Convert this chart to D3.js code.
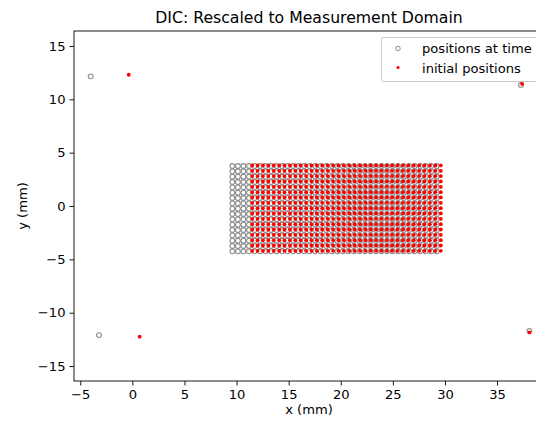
<!DOCTYPE html>
<html><head><meta charset="utf-8">
<script src="https://cdn.jsdelivr.net/npm/d3@7"></script>
<style>
html,body{margin:0;padding:0;background:#fff;}
svg{display:block;font-family:"DejaVu Sans",sans-serif;}
</style></head>
<body>
<svg id="c" width="536" height="426"></svg>
<script>
// ---- data ----
const xTicks = [-5, 0, 5, 10, 15, 20, 25, 30, 35];
const yTicks = [-15, -10, -5, 0, 5, 10, 15];
// initial positions grid (columns / rows, mm)
const initCols = [11.5, 12.02, 12.53, 13.05, 13.57, 14.09, 14.6, 15.12, 15.64, 16.15, 16.67, 17.19, 17.7, 18.22, 18.74, 19.26, 19.77, 20.29, 20.81, 21.32, 21.84, 22.36, 22.87, 23.39, 23.91, 24.43, 24.94, 25.46, 25.98, 26.49, 27.01, 27.53, 28.04, 28.56, 29.08, 29.6];
const initRows = [3.8, 3.3, 2.8, 2.3, 1.8, 1.3, 0.8, 0.3, -0.2, -0.7, -1.2, -1.7, -2.2, -2.7, -3.2, -3.7, -4.2];
// positions at time grid
const timeCols = [9.6, 10.13, 10.66, 11.19, 11.72, 12.25, 12.78, 13.31, 13.84, 14.37, 14.9, 15.43, 15.96, 16.49, 17.02, 17.55, 18.08, 18.61, 19.14, 19.67, 20.2, 20.73, 21.26, 21.79, 22.32, 22.85, 23.38, 23.91, 24.44, 24.97, 25.5, 26.03, 26.56, 27.09, 27.62, 28.15, 28.68, 29.21];
const timeRows = [3.75, 3.25, 2.75, 2.25, 1.75, 1.25, 0.75, 0.25, -0.25, -0.75, -1.25, -1.75, -2.25, -2.75, -3.25, -3.75, -4.25];
// corner markers
const initCorners = [[-0.35, 12.3], [0.7, -12.25], [37.4, 11.45], [38.1, -11.85]];
const timeCorners = [[-4.0, 12.15], [-3.2, -12.1], [37.3, 11.35], [38.1, -11.7]];

// ---- layout ----
const svg = d3.select("#c");
const L = 74, T = 31, B = 381, R = 545;
const x = d3.scaleLinear().domain([-5.6, 39.6]).range([L, R]);
const y = d3.scaleLinear().domain([-16.4, 16.4]).range([B, T]);

const initPts = d3.cross(initCols, initRows).concat(initCorners);
const timePts = d3.cross(timeCols, timeRows).concat(timeCorners);

const plot = svg.append("g");
plot.selectAll("circle.t").data(timePts).enter().append("circle")
  .attr("class", "t").attr("cx", d => x(d[0])).attr("cy", d => y(d[1])).attr("r", 2.4)
  .attr("fill", "none").attr("stroke", "#8c8c8c").attr("stroke-width", 1.1);
plot.selectAll("circle.i").data(initPts).enter().append("circle")
  .attr("class", "i").attr("cx", d => x(d[0])).attr("cy", d => y(d[1])).attr("r", 1.9)
  .attr("fill", "#ff0000");

// axes
const fs = 13.1;
const fmt = d => d < 0 ? "\u2212" + Math.abs(d) : d;
const xa = svg.append("g").attr("transform", `translate(0,${B})`)
  .call(d3.axisBottom(x).tickValues(xTicks).tickSize(4.5).tickPadding(4).tickFormat(fmt));
const ya = svg.append("g").attr("transform", `translate(${L},0)`)
  .call(d3.axisLeft(y).tickValues(yTicks).tickSize(4.5).tickPadding(4).tickFormat(fmt));
[xa, ya].forEach(a => {
  a.select(".domain").remove();
  a.selectAll("text").attr("font-size", fs).attr("font-family", "DejaVu Sans").attr("fill", "#000");
  a.selectAll("line").attr("stroke", "#000").attr("stroke-width", 0.9);
});
// frame
svg.append("rect").attr("x", L).attr("y", T).attr("width", R - L).attr("height", B - T)
  .attr("fill", "none").attr("stroke", "#000").attr("stroke-width", 0.9);

// labels
svg.append("text").attr("x", 309).attr("y", 414).attr("text-anchor", "middle")
  .attr("font-size", fs).text("x (mm)");
svg.append("text").attr("transform", "translate(27,206) rotate(-90)").attr("text-anchor", "middle")
  .attr("font-size", fs).text("y (mm)");
svg.append("text").attr("x", 309).attr("y", 23).attr("text-anchor", "middle")
  .attr("font-size", 15.7).text("DIC: Rescaled to Measurement Domain");

// legend
const lg = svg.append("g");
lg.append("rect").attr("x", 381.5).attr("y", 37.5).attr("width", 170).attr("height", 44).attr("rx", 2)
  .attr("fill", "#fff").attr("fill-opacity", 0.8).attr("stroke", "#ccc").attr("stroke-width", 1);
lg.append("circle").attr("cx", 398).attr("cy", 48.5).attr("r", 2.2).attr("fill", "none")
  .attr("stroke", "#8c8c8c").attr("stroke-width", 1);
lg.append("circle").attr("cx", 398).attr("cy", 67.5).attr("r", 1.6).attr("fill", "#ff0000");
lg.append("text").attr("x", 422).attr("y", 53).attr("font-size", fs).text("positions at time");
lg.append("text").attr("x", 422).attr("y", 72.5).attr("font-size", fs).text("initial positions");
</script>
</body></html>
